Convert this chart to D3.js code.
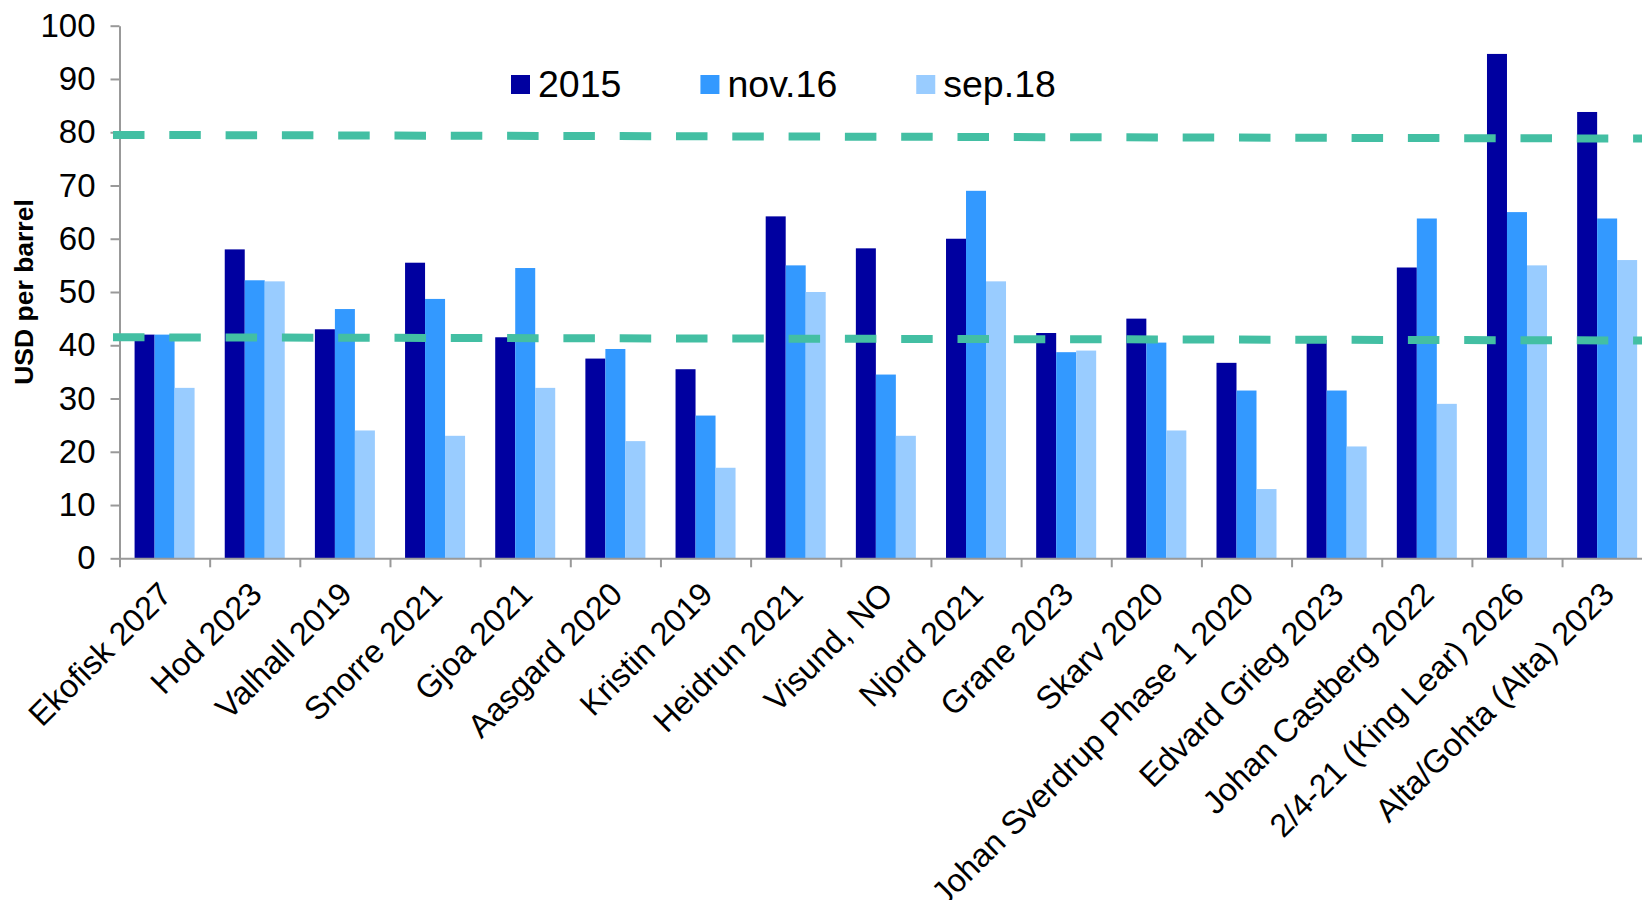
<!DOCTYPE html>
<html>
<head>
<meta charset="utf-8">
<script src="https://cdn.jsdelivr.net/npm/d3@7"></script>
<style>
    body { margin: 0; background: #fff; }
    svg { display: block; font-family: "Liberation Sans", Arial, sans-serif; }
    .axis path, .axis line { stroke: #999; stroke-width: 2; }
    .axis text { fill: #000; }
</style>
</head>
<body>
<script>
(function(){

//field names along the x axis
var fields = ["Ekofisk 2027", "Hod 2023", "Valhall 2019", "Snorre 2021", "Gjoa 2021",
    "Aasgard 2020", "Kristin 2019", "Heidrun 2021", "Visund, NO", "Njord 2021", "Grane 2023",
    "Skarv 2020", "Johan Sverdrup Phase 1 2020", "Edvard Grieg 2023", "Johan Castberg 2022",
    "2/4-21 (King Lear) 2026", "Alta/Gohta (Alta) 2023"];

//series names (legend)
var seriesNames = ["2015", "nov.16", "sep.18"];

//breakeven values, USD per barrel
var values2015 = [42, 58, 43, 55.5, 41.5, 37.5, 35.5, 64.2, 58.2, 60, 42.3, 45, 36.7, 41, 54.6, 94.7, 83.8];
var valuesNov16 = [42, 52.2, 46.8, 48.7, 54.5, 39.3, 26.8, 55, 34.5, 69, 38.7, 40.5, 31.5, 31.5, 63.8, 65, 63.8];
var valuesSep18 = [32, 52, 24, 23, 32, 22, 17, 50, 23, 52, 39, 24, 13, 21, 29, 55, 56];

//dashed reference lines, value at left and right end
var upperLine = [79.5, 78.8];
var lowerLine = [41.5, 40.9];

//y axis ticks
var yTicks = [0, 10, 20, 30, 40, 50, 60, 70, 80, 90, 100];

var colors = ["#0000A0", "#3399FF", "#99CCFF"];

window.onload = setChart();

function setChart(){
    var width = 1642,
        height = 900,
        left = 119.5,
        step = 90.16,
        top = 25.7,
        bottom = 558.3;

    var svg = d3.select("body")
        .append("svg")
        .attr("width", width)
        .attr("height", height);

    var allSeries = [values2015, valuesNov16, valuesSep18];

    //outer band scale for fields, inner one for series
    var pad = (step - 60) / step;
    var x = d3.scaleBand()
        .domain(fields)
        .range([left, left + step * fields.length])
        .paddingInner(pad)
        .paddingOuter(pad / 2);

    var xSub = d3.scaleBand()
        .domain(d3.range(seriesNames.length))
        .range([0, x.bandwidth()]);

    var y = d3.scaleLinear()
        .domain([0, 100])
        .range([bottom, top]);

    //bars
    allSeries.forEach(function(vals, s){
        svg.append("g")
            .selectAll("rect")
            .data(vals)
            .enter()
            .append("rect")
            .attr("x", function(d, i){ return x(fields[i]) + xSub(s); })
            .attr("y", function(d){ return y(d); })
            .attr("width", xSub.bandwidth())
            .attr("height", function(d){ return bottom - y(d); })
            .style("fill", colors[s]);
    });

    //x axis with ticks between the fields
    var xEdges = d3.scaleLinear()
        .domain([0, fields.length])
        .range([left, left + step * fields.length]);

    svg.append("g")
        .attr("class", "axis")
        .attr("transform", "translate(0," + bottom + ")")
        .call(d3.axisBottom(xEdges)
            .tickValues(d3.range(fields.length + 1))
            .tickFormat("")
            .tickSize(9)
            .tickSizeOuter(0));

    //field labels, rotated
    svg.append("g")
        .selectAll("text")
        .data(fields)
        .enter()
        .append("text")
        .attr("transform", function(d){
            return "translate(" + (x(d) + x.bandwidth() / 2 + 9) + "," + (bottom + 38) + ") rotate(-45)";
        })
        .attr("text-anchor", "end")
        .style("font-size", "32.5px")
        .text(function(d){ return d; });

    //y axis
    var yAxis = svg.append("g")
        .attr("class", "axis")
        .attr("transform", "translate(" + left + ",0)")
        .call(d3.axisLeft(y)
            .tickValues(yTicks)
            .tickSize(9)
            .tickSizeOuter(0)
            .tickPadding(15));
    yAxis.selectAll("text")
        .style("font-size", "33px")
        .style("font-family", "Liberation Sans, Arial, sans-serif");

    //y axis title
    svg.append("text")
        .attr("transform", "translate(33,292) rotate(-90)")
        .attr("text-anchor", "middle")
        .style("font-size", "26.5px")
        .style("font-weight", "bold")
        .text("USD per barrel");

    //dashed reference lines
    [upperLine, lowerLine].forEach(function(ends){
        svg.append("line")
            .attr("x1", left - 6.5)
            .attr("x2", left + step * fields.length)
            .attr("y1", y(ends[0]))
            .attr("y2", y(ends[1]))
            .style("stroke", "#43BFA3")
            .style("stroke-width", 8)
            .style("stroke-dasharray", "31.5,24.8");
    });

    //legend
    var lx = 511;
    seriesNames.forEach(function(name, s){
        svg.append("rect")
            .attr("x", lx)
            .attr("y", 75)
            .attr("width", 19)
            .attr("height", 19)
            .style("fill", colors[s]);
        var t = svg.append("text")
            .attr("x", lx + 27)
            .attr("y", 97)
            .style("font-size", "37.5px")
            .text(name);
        lx = lx + 27 + t.node().getComputedTextLength() + 79;
    });
};

})();
</script>
</body>
</html>
